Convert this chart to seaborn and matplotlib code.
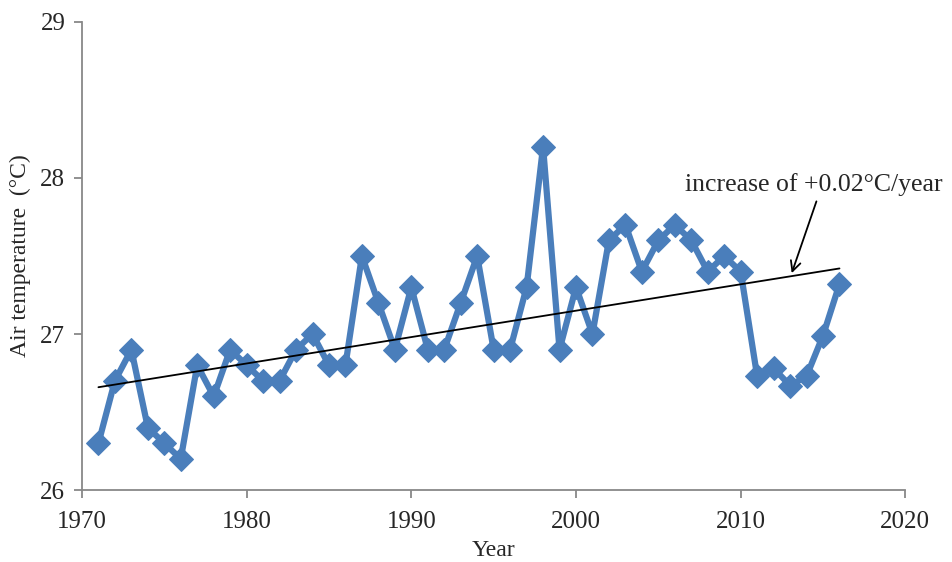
import numpy as np
import pandas as pd
import matplotlib
matplotlib.use("Agg")
import matplotlib.pyplot as plt
import seaborn as sns

# Annual mean air temperature
years = list(range(1971, 2017))
temps = [26.3, 26.7, 26.9, 26.4, 26.3, 26.2, 26.8, 26.6, 26.9, 26.8,
         26.7, 26.7, 26.9, 27.0, 26.8, 26.8, 27.5, 27.2, 26.9, 27.3,
         26.9, 26.9, 27.2, 27.5, 26.9, 26.9, 27.3, 28.2, 26.9, 27.3,
         27.0, 27.6, 27.7, 27.4, 27.6, 27.7, 27.6, 27.4, 27.5, 27.4,
         26.73, 26.78, 26.67, 26.73, 26.99, 27.32]
trend_label = "increase of +0.02\u00b0C/year"

df = pd.DataFrame({"Year": years, "Temp": temps})

sns.set_style("white")
plt.rcParams['font.family'] = ['Liberation Serif', 'DejaVu Serif']

fig = plt.figure(figsize=(9.53, 5.62), dpi=100)
ax = fig.add_axes([0.086, 0.128, 0.864, 0.833])

sns.lineplot(data=df, x="Year", y="Temp", ax=ax, color="#4a7ebb", linewidth=4.5,
             marker="D", markersize=12, markeredgecolor="#4a7ebb")

# linear trend
coef = np.polyfit(df["Year"], df["Temp"], 1)
xs = np.array([years[0], years[-1]])
ax.plot(xs, np.polyval(coef, xs), color="black", linewidth=1.3)

ax.text(2006.6, 27.96, trend_label, fontsize=18.5, va="center", ha="left")
ax.annotate("", xy=(2013.1, 27.39), xytext=(2014.6, 27.85),
            arrowprops=dict(arrowstyle="->", color="black", lw=1.3,
                            shrinkA=0, shrinkB=0, mutation_scale=18))

ax.set_xlim(1970, 2020)
ax.set_ylim(26, 29)
ax.set_xticks([1970, 1980, 1990, 2000, 2010, 2020])
ax.set_yticks([26, 27, 28, 29])
ax.set_xlabel("Year", fontsize=17, labelpad=5)
ax.set_ylabel("Air temperature  (\u00b0C)", fontsize=17, labelpad=7)
ax.tick_params(axis="both", labelsize=18, direction="out", length=6,
               color="#888888", width=1.3, bottom=True, left=True)
ax.tick_params(axis="x", pad=9)
ax.tick_params(axis="y", pad=6)

for side in ["top", "right"]:
    ax.spines[side].set_visible(False)
for side in ["left", "bottom"]:
    ax.spines[side].set_color("#888888")
    ax.spines[side].set_linewidth(1.3)

fig.savefig("out.png", dpi=100)
